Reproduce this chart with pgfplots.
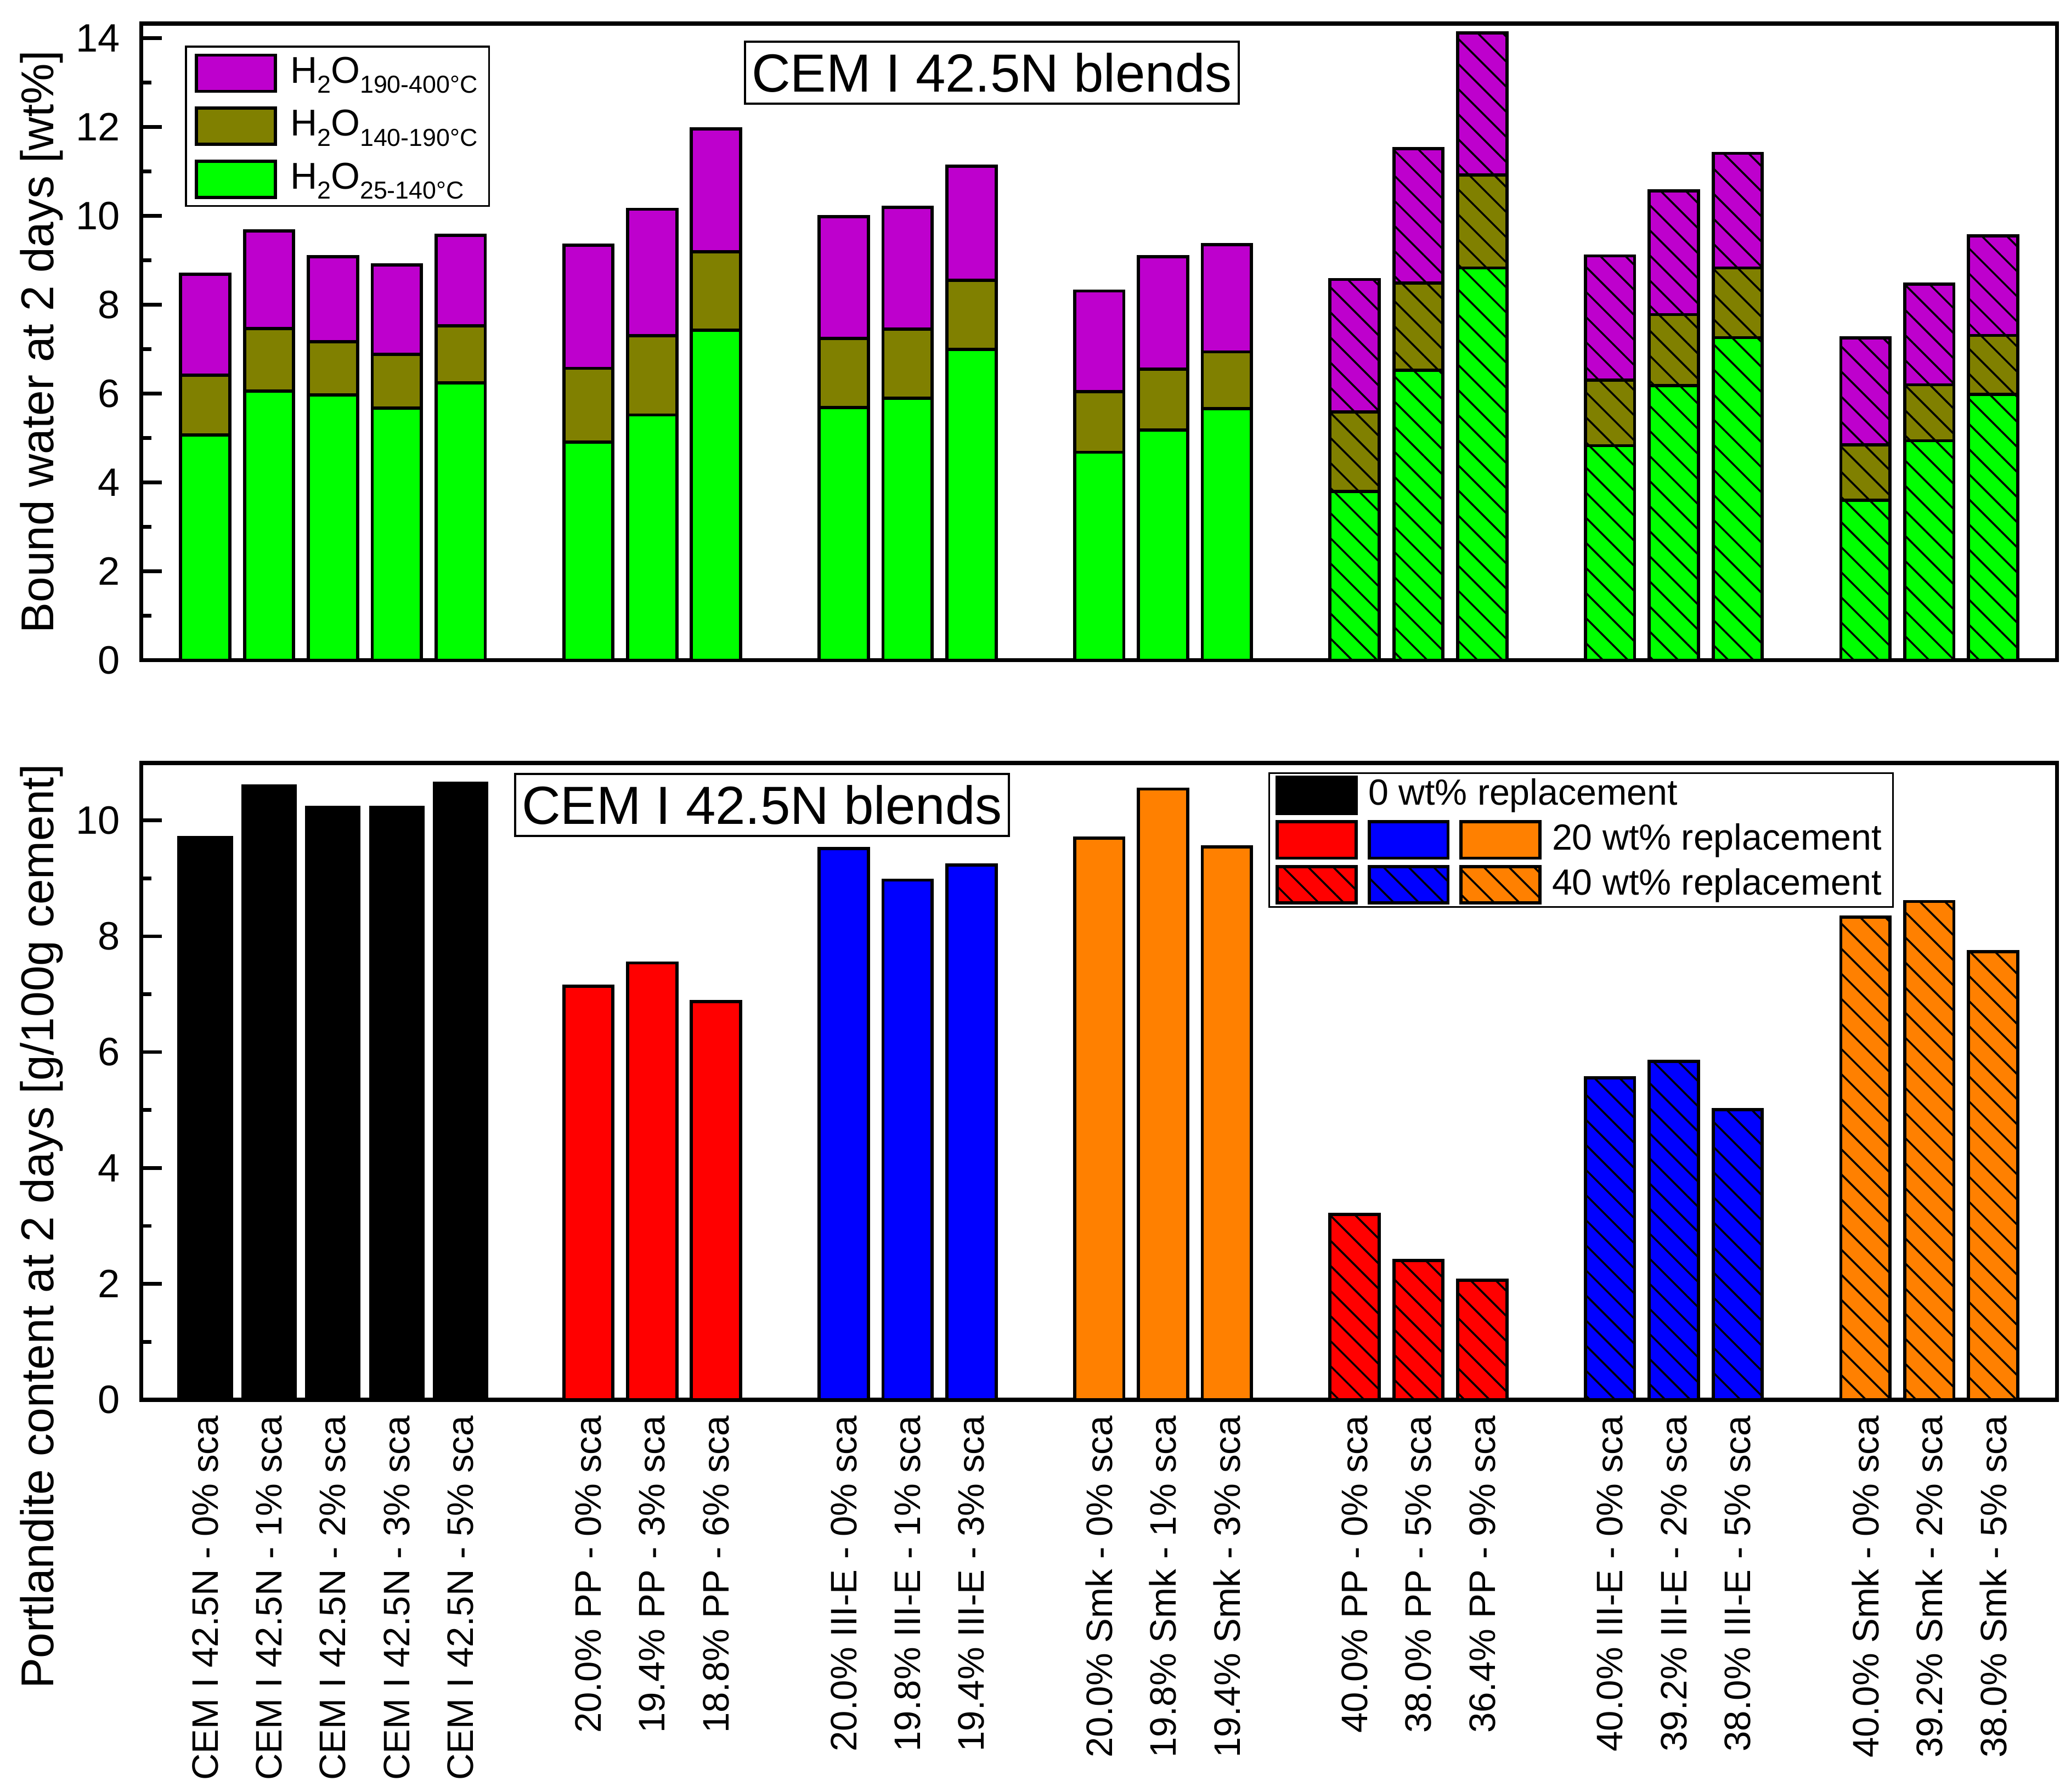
\documentclass[border=0pt]{standalone}
\usepackage{fontspec}
\setmainfont{Liberation Sans}
\usepackage{pgfplots}
\pgfplotsset{compat=1.18}
\usetikzlibrary{patterns.meta}

\definecolor{purp}{RGB}{190,0,205}
\definecolor{oliv}{RGB}{128,128,0}
\definecolor{lgreen}{RGB}{0,255,0}
\definecolor{orng}{RGB}{255,128,0}

\newcommand\sub[1]{\raisebox{-2.2pt}{\fontsize{5.4}{6}\selectfont #1}}

\tikzset{
  hatch/.style={postaction={pattern={Lines[angle=-45,distance=3.9pt,line width=0.42pt]}}},
  patch/.style={draw=black, line width=0.7pt},
}

\pgfplotsset{
  panel/.style={
    scale only axis, width=14.8cm, height=4.92cm,
    xmin=-1, xmax=29,
    axis line style={line width=0.9pt},
    tick pos=left, tick align=inside,
    ytick style={line width=0.8pt, black},
    major tick length=0.16cm, minor tick length=0.078cm,
    minor y tick num=1,
    xtick style={draw=none},
    /pgf/number format/assume math mode=true,
    yticklabel style={font=\fontsize{8.7}{10}\selectfont, xshift=-0.04cm},
    ylabel style={font=\fontsize{10.1}{12}\selectfont, anchor=center},
    bar width=0.77,
  },
  bars/.style={ybar, bar shift=0pt, draw=black, line width=0.7pt, forget plot},
}

\begin{document}
\begin{tikzpicture}

% top panel: bound water, cumulative tops of each temperature range
\begin{axis}[panel, at={(0,5.714cm)}, anchor=south west,
  ymin=0, ymax=14.33, ytick={0,2,...,14},
  xtick=\empty,
  ylabel={Bound water at 2 days [wt\%]},
  ylabel style={at={(axis description cs:-0.052,0.5)}},
  legend cell align=left,
  legend style={at={(0.0228,0.965)}, anchor=north west, draw=black, line width=0.4pt,
    font=\fontsize{8.2}{9}\selectfont, row sep=3pt, column sep=2.4pt,
    inner xsep=2pt, inner ysep=1.5pt,
    nodes={inner ysep=0pt, inner xsep=0.5pt}},
]
% plain
\addplot[bars, fill=purp] coordinates {(0,8.69) (1,9.66) (2,9.08) (3,8.90) (4,9.56)
  (6,9.34) (7,10.15) (8,11.96) (10,9.98) (11,10.19) (12,11.12) (14,8.31) (15,9.08) (16,9.35)};
\addplot[bars, fill=oliv] coordinates {(0,6.42) (1,7.46) (2,7.17) (3,6.88) (4,7.53)
  (6,6.57) (7,7.30) (8,9.19) (10,7.24) (11,7.45) (12,8.55) (14,6.05) (15,6.55) (16,6.94)};
\addplot[bars, fill=lgreen] coordinates {(0,5.07) (1,6.06) (2,5.97) (3,5.67) (4,6.24)
  (6,4.91) (7,5.52) (8,7.43) (10,5.69) (11,5.90) (12,7.00) (14,4.68) (15,5.18) (16,5.66)};
% hatched
\addplot[bars, fill=purp, hatch] coordinates {(18,8.57) (19,11.51) (20,14.12)
  (22,9.10) (23,10.56) (24,11.41) (26,7.25) (27,8.46) (28,9.55)};
\addplot[bars, fill=oliv, hatch] coordinates {(18,5.59) (19,8.49) (20,10.92)
  (22,6.30) (23,7.78) (24,8.83) (26,4.85) (27,6.20) (28,7.31)};
\addplot[bars, fill=lgreen, hatch] coordinates {(18,3.80) (19,6.53) (20,8.83)
  (22,4.83) (23,6.18) (24,7.26) (26,3.60) (27,4.94) (28,5.98)};

\addlegendimage{legend image code/.code={\draw[patch, fill=purp] (0cm,-0.14cm) rectangle (0.61cm,0.14cm);}}
\addlegendentry{H\sub{2}O\sub{190-400°C}}
\addlegendimage{legend image code/.code={\draw[patch, fill=oliv] (0cm,-0.14cm) rectangle (0.61cm,0.14cm);}}
\addlegendentry{H\sub{2}O\sub{140-190°C}}
\addlegendimage{legend image code/.code={\draw[patch, fill=lgreen] (0cm,-0.14cm) rectangle (0.61cm,0.14cm);}}
\addlegendentry{H\sub{2}O\sub{25-140°C}}

\node[draw=black, line width=0.5pt, fill=white, inner xsep=1.5pt, inner ysep=2.5pt,
  font=\fontsize{11.8}{14}\selectfont] at (axis description cs:0.444,0.923) {CEM I 42.5N blends};
\end{axis}

% bottom panel: portlandite
\begin{axis}[panel, at={(0,0)}, anchor=south west,
  ymin=0, ymax=10.99, ytick={0,2,...,10},
  xtick={0,1,2,3,4,6,7,8,10,11,12,14,15,16,18,19,20,22,23,24,26,27,28},
  xticklabels={CEM I 42.5N - 0\% sca, CEM I 42.5N - 1\% sca, CEM I 42.5N - 2\% sca,
    CEM I 42.5N - 3\% sca, CEM I 42.5N - 5\% sca,
    20.0\% PP - 0\% sca, 19.4\% PP - 3\% sca, 18.8\% PP - 6\% sca,
    20.0\% III-E - 0\% sca, 19.8\% III-E - 1\% sca, 19.4\% III-E - 3\% sca,
    20.0\% Smk - 0\% sca, 19.8\% Smk - 1\% sca, 19.4\% Smk - 3\% sca,
    40.0\% PP - 0\% sca, 38.0\% PP - 5\% sca, 36.4\% PP - 9\% sca,
    40.0\% III-E - 0\% sca, 39.2\% III-E - 2\% sca, 38.0\% III-E - 5\% sca,
    40.0\% Smk - 0\% sca, 39.2\% Smk - 2\% sca, 38.0\% Smk - 5\% sca},
  xticklabel style={rotate=90, anchor=east, font=\fontsize{8.1}{10}\selectfont},
  ylabel={Portlandite content at 2 days [g/100g cement]},
  ylabel style={at={(axis description cs:-0.052,0.272)}},
  legend cell align=left,
  legend style={at={(0.5883,0.9855)}, anchor=north west, draw=black, line width=0.4pt,
    font=\fontsize{8}{9}\selectfont, row sep=1.2pt, column sep=1.2pt,
    inner xsep=1.4pt, inner ysep=0.5pt,
    nodes={inner ysep=0pt, inner xsep=1.1pt}},
]
\addplot[bars, fill=black, bar width=0.82] coordinates {(0,9.70) (1,10.59) (2,10.22) (3,10.22) (4,10.64)};
\addplot[bars, fill=red] coordinates {(6,7.14) (7,7.54) (8,6.87)};
\addplot[bars, fill=blue] coordinates {(10,9.51) (11,8.97) (12,9.23)};
\addplot[bars, fill=orng] coordinates {(14,9.69) (15,10.54) (16,9.54)};
\addplot[bars, fill=red, hatch] coordinates {(18,3.20) (19,2.40) (20,2.06)};
\addplot[bars, fill=blue, hatch] coordinates {(22,5.56) (23,5.84) (24,5.01)};
\addplot[bars, fill=orng, hatch] coordinates {(26,8.33) (27,8.60) (28,7.73)};

\addlegendimage{legend image code/.code={\draw[patch, fill=black] (0cm,-0.14cm) rectangle (0.61cm,0.14cm);}}
\addlegendentry{\hspace*{-1.42cm}0 wt\% replacement}
\addlegendimage{legend image code/.code={
  \draw[patch, fill=red] (0cm,-0.14cm) rectangle (0.61cm,0.14cm);
  \draw[patch, fill=blue] (0.71cm,-0.14cm) rectangle (1.32cm,0.14cm);
  \draw[patch, fill=orng] (1.42cm,-0.14cm) rectangle (2.03cm,0.14cm);}}
\addlegendentry{20 wt\% replacement}
\addlegendimage{legend image code/.code={
  \draw[patch, fill=red, hatch] (0cm,-0.14cm) rectangle (0.61cm,0.14cm);
  \draw[patch, fill=blue, hatch] (0.71cm,-0.14cm) rectangle (1.32cm,0.14cm);
  \draw[patch, fill=orng, hatch] (1.42cm,-0.14cm) rectangle (2.03cm,0.14cm);}}
\addlegendentry{40 wt\% replacement}

\node[draw=black, line width=0.5pt, fill=white, inner xsep=1.5pt, inner ysep=2.5pt,
  font=\fontsize{11.8}{14}\selectfont] at (axis description cs:0.324,0.934) {CEM I 42.5N blends};
\end{axis}

\pgfresetboundingbox
\useasboundingbox (-1.092cm,-3.03cm) rectangle (14.908cm,10.816cm);
\end{tikzpicture}
\end{document}
